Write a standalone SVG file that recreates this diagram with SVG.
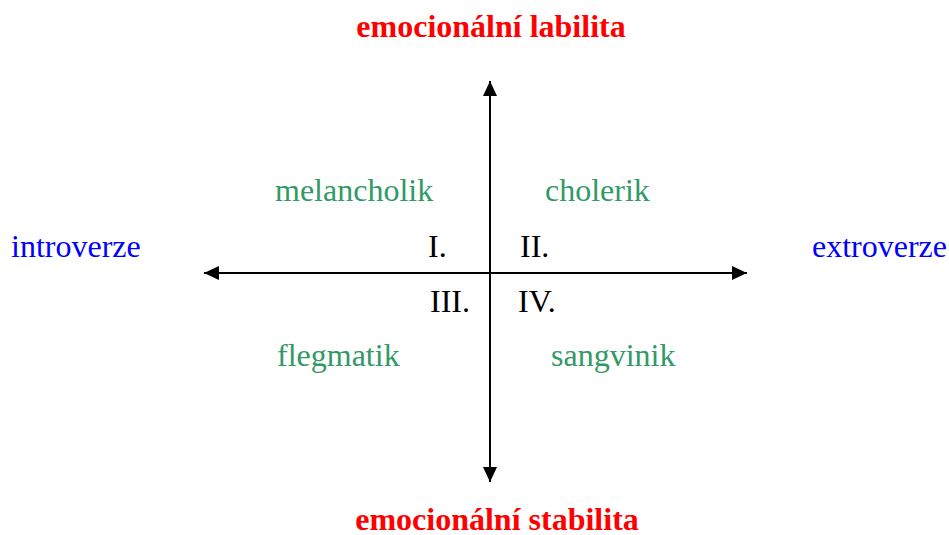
<svg xmlns="http://www.w3.org/2000/svg" width="949" height="535" viewBox="0 0 949 535">
  <style>
    text { font-family: "Liberation Serif", "Times New Roman", serif; font-size: 32px; }
    .axis-title { fill: #ff0000; font-weight: bold; text-anchor: middle; }
    .side { fill: #0000ff; }
    .type { fill: #339966; }
    .num { fill: #000000; }
    .axis { stroke: #000000; stroke-width: 2; fill: none; }
  </style>
  <defs>
    <marker id="arrow" viewBox="0 0 15 14" refX="15" refY="7" markerWidth="15" markerHeight="14" markerUnits="userSpaceOnUse" orient="auto">
      <path d="M0,0 L15,7 L0,14 z" fill="#000000"/>
    </marker>
  </defs>
  <rect width="949" height="535" fill="#ffffff"/>

  <!-- axes: arrows out from the centre -->
  <g id="connectors">
    <line class="axis" x1="490" y1="273" x2="490" y2="81" marker-end="url(#arrow)"/>
    <line class="axis" x1="490" y1="273" x2="490" y2="482" marker-end="url(#arrow)"/>
    <line class="axis" x1="490" y1="273" x2="204" y2="273" marker-end="url(#arrow)"/>
    <line class="axis" x1="490" y1="273" x2="747" y2="273" marker-end="url(#arrow)"/>
  </g>

  <g id="label-labilita"><text class="axis-title" x="491" y="37">emocionální labilita</text></g>
  <g id="label-stabilita"><text class="axis-title" x="497" y="530">emocionální stabilita</text></g>
  <g id="label-introverze"><text class="side" x="11" y="257">introverze</text></g>
  <g id="label-extroverze"><text class="side" x="812" y="257">extroverze</text></g>

  <g id="melancholik"><text class="type" x="275" y="201">melancholik</text></g>
  <g id="cholerik"><text class="type" x="545" y="201">cholerik</text></g>
  <g id="flegmatik"><text class="type" x="277" y="366">flegmatik</text></g>
  <g id="sangvinik"><text class="type" x="551" y="366">sangvinik</text></g>

  <g id="q1"><text class="num" x="428" y="257">I.</text></g>
  <g id="q2"><text class="num" x="520" y="257">II.</text></g>
  <g id="q3"><text class="num" x="430" y="312">III.</text></g>
  <g id="q4"><text class="num" x="518" y="312">IV.</text></g>
</svg>
